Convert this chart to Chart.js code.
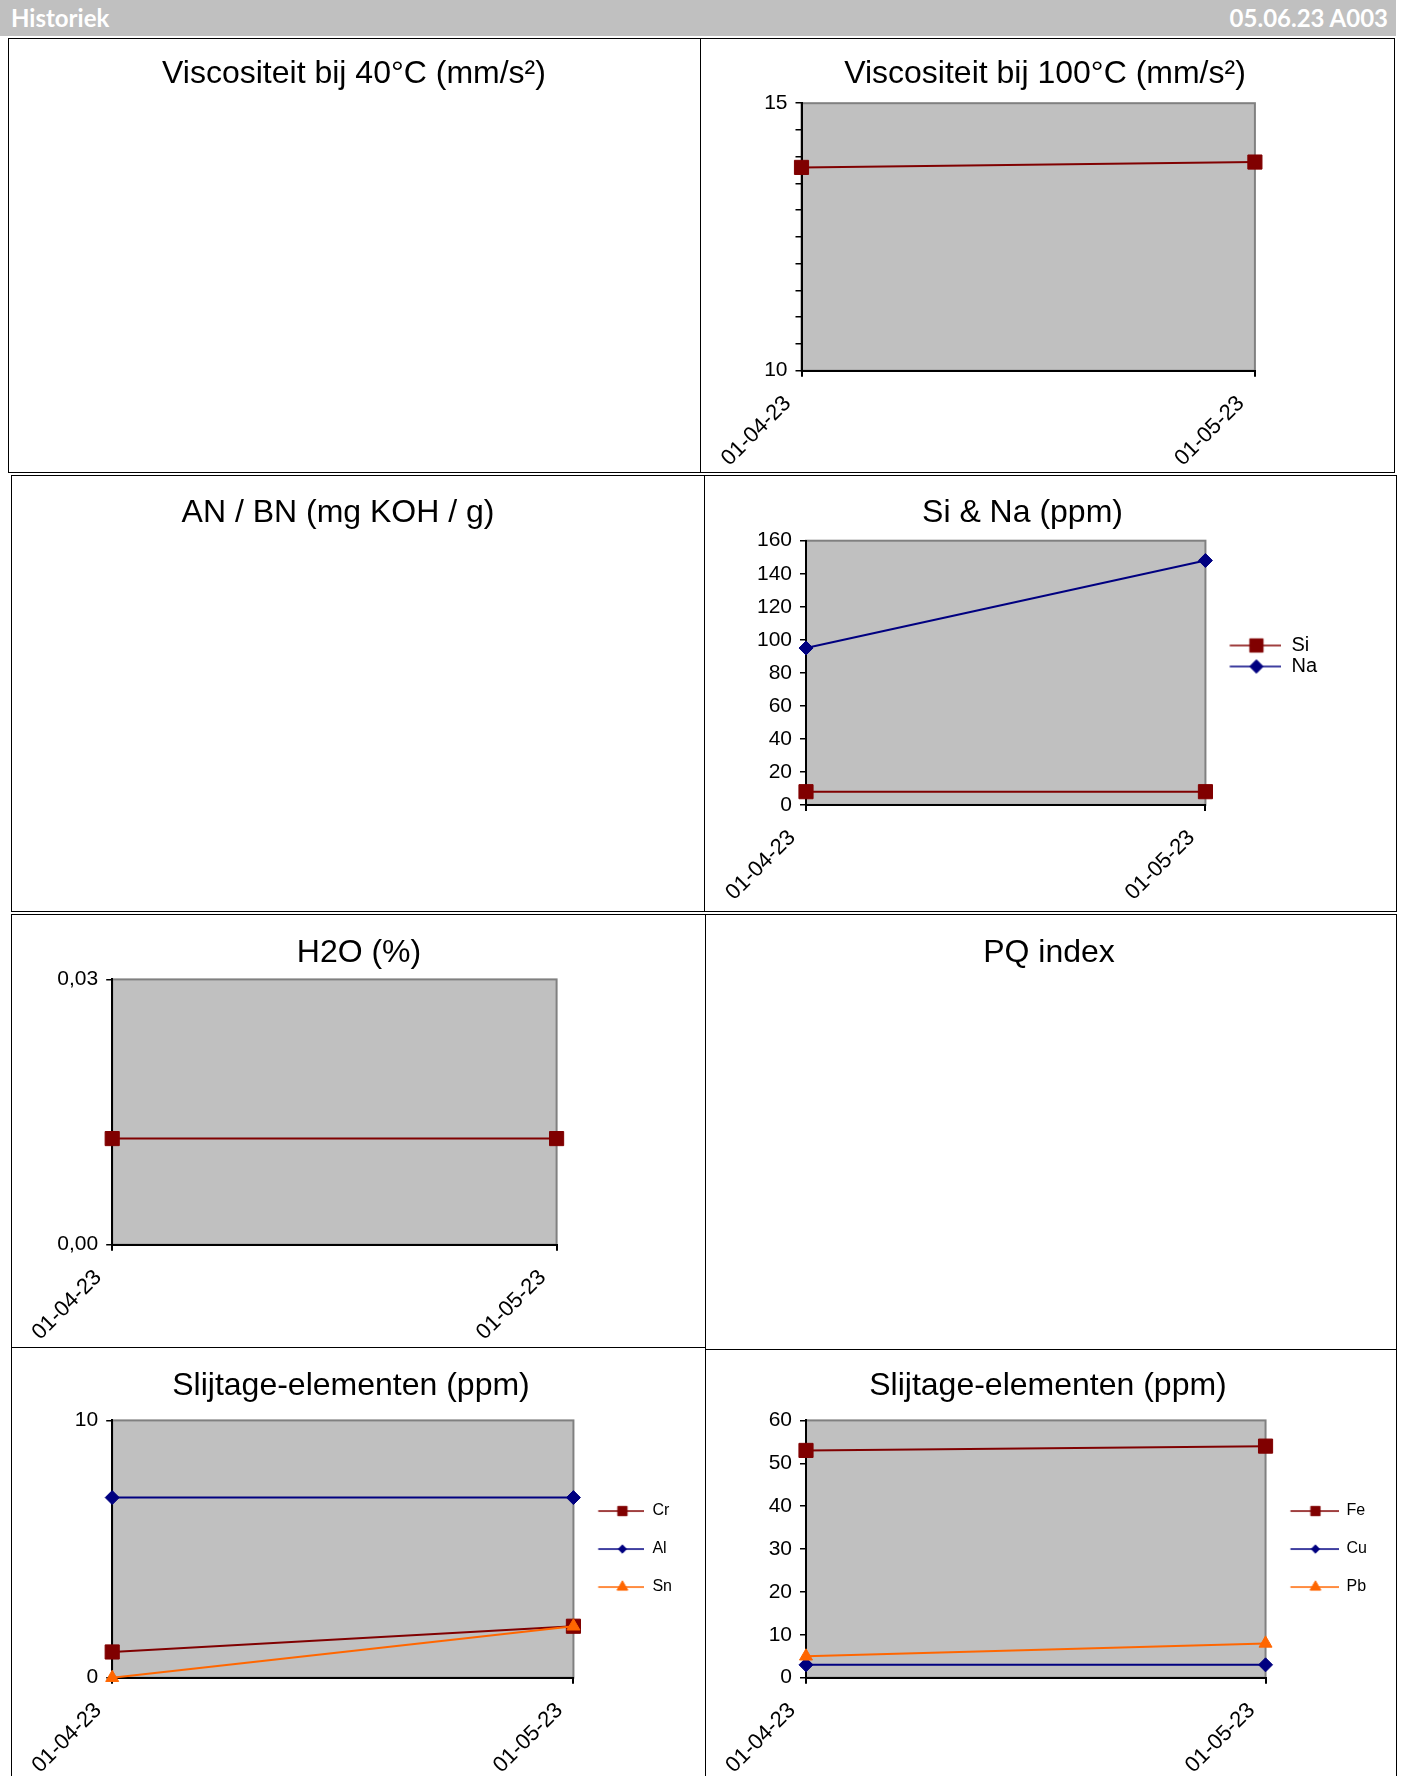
<!DOCTYPE html>
<html lang="nl">
<head>
<meta charset="UTF-8">
<title>Historiek</title>
<script src="https://cdn.jsdelivr.net/npm/chart.js@4"></script>
<style>
  body { margin: 0; width: 1401px; height: 1776px; overflow: hidden; background: #fff; position: relative; }
  .head { position: absolute; left: 0; top: 0; width: 1396px; height: 36px; background: #c0c0c0; color: #fff;
          font-family: Lato, 'Open Sans', sans-serif; font-weight: 700; font-size: 24px; line-height: 36px; }
  .head .l { position: absolute; left: 11px; }
  .head .r { position: absolute; right: 8px; }
  .cell { position: absolute; border: 1px solid #000; box-sizing: border-box; }
  canvas { position: absolute; }
</style>
</head>
<body>
<div class="head"><span class="l">Historiek</span><span class="r">05.06.23 A003</span></div>

<div class="cell" style="left:8px;top:38px;width:693px;height:435px"></div>
<div class="cell" style="left:700px;top:38px;width:695px;height:435px"></div>
<div class="cell" style="left:11px;top:475px;width:694px;height:437px"></div>
<div class="cell" style="left:704px;top:475px;width:693px;height:437px"></div>
<div class="cell" style="left:11px;top:914px;width:695px;height:434px"></div>
<div class="cell" style="left:705px;top:914px;width:692px;height:436px"></div>
<div class="cell" style="left:11px;top:1347px;width:695px;height:500px"></div>
<div class="cell" style="left:705px;top:1349px;width:692px;height:500px"></div>

<script>
var FONT = "'Liberation Sans', Arial, sans-serif";
var RED = '#800000', BLUE = '#000080', ORANGE = '#ff6600';

// data
var dates = ['01-04-23', '01-05-23'];
var visc100 = [13.8, 13.9];
var siVals = [8, 8];
var naVals = [95, 148];
var h2oVals = [0.012, 0.012];
var crVals = [1, 2];
var alVals = [7, 7];
var snVals = [0, 2];
var feVals = [53, 54];
var cuVals = [3, 3];
var pbVals = [5, 8];

Chart.defaults.font.family = FONT;
Chart.defaults.color = '#000';

var TITLE_SIZE = 32;
var TITLE_LH = TITLE_SIZE * 1.2;
var TITLE_DY = 2;     // canvas 'middle' sits a bit above the visual centre
var MARGIN = 60;      // extra canvas room left/right so rotated labels are not cut

var mctx = document.createElement('canvas').getContext('2d');
function measure(txt, size) {
    mctx.font = 'normal ' + size + 'px ' + FONT;
    return mctx.measureText(txt).width;
}

function addCanvas(x, y, w, h) {
    var c = document.createElement('canvas');
    c.width = w;
    c.height = h;
    c.style.left = x + 'px';
    c.style.top = y + 'px';
    c.style.width = w + 'px';
    c.style.height = h + 'px';
    document.body.appendChild(c);
    return c;
}

// grey plot area with a grey frame, like the old spreadsheet charts
var plotBg = {
    id: 'plotBg',
    beforeDraw: function (chart) {
        var a = chart.chartArea, ctx = chart.ctx;
        ctx.save();
        ctx.fillStyle = '#c0c0c0';
        ctx.fillRect(a.left, a.top, a.right - a.left, a.bottom - a.top);
        ctx.strokeStyle = '#808080';
        ctx.lineWidth = 2;
        ctx.strokeRect(a.left, a.top, a.right - a.left, a.bottom - a.top);
        ctx.restore();
    }
};

function series(label, data, color, style, radius, order) {
    return {
        label: label,
        data: data,
        borderColor: color,
        backgroundColor: color,
        borderWidth: 2,
        pointStyle: style,
        pointRadius: radius,
        pointBorderWidth: 1,
        pointBorderColor: color,
        pointBackgroundColor: color,
        tension: 0,
        clip: false,
        order: order || 0
    };
}

function legendSample(ds, W, x0, x1, mx, r) {
    var c = document.createElement('canvas');
    c.width = W;
    c.height = 22;
    var g = c.getContext('2d');
    g.strokeStyle = ds.borderColor;
    g.lineWidth = 1.5;
    g.beginPath();
    g.moveTo(x0, 11);
    g.lineTo(x1, 11);
    g.stroke();
    g.fillStyle = ds.backgroundColor;
    g.strokeStyle = ds.borderColor;
    g.lineWidth = 1;
    Chart.helpers.drawPoint(g, { pointStyle: ds.pointStyle, radius: r, borderWidth: 1, rotation: 0 }, mx, 11);
    return c;
}

function makeChart(spec) {
    var lg = spec.legend;
    var p = spec.plot;
    var legendW = 0, W = 0, start = 0;
    if (lg) {
        var tw = 0;
        spec.datasets.forEach(function (ds) { tw = Math.max(tw, measure(ds.label, lg.fs)); });
        start = p.r + lg.p;
        W = Math.round(lg.text - lg.fs / 2 - start);
        legendW = lg.p + W + lg.fs / 2 + tw + 10;
    }
    var cx = Math.floor(Math.min(p.l - 60, 2 * spec.titleX - legendW - p.r));
    var cw = Math.round(2 * (spec.titleX - cx));
    var yLeftW = p.l - cx;
    var yRightW = Math.max(0, cx + cw - legendW - p.r);
    var titleY = spec.titleY + TITLE_DY;
    var padTop = titleY - spec.cy - TITLE_LH / 2;
    var padBottom = p.t - spec.cy - padTop - TITLE_LH;
    var xH = spec.cy + spec.ch - p.b;

    var scales = {
        x: {
            type: 'category',
            offset: false,
            grid: { drawOnChartArea: false, drawTicks: true, tickLength: 6, color: '#000', lineWidth: 2 },
            border: { color: '#000', width: 2 },
            ticks: {
                autoSkip: false, minRotation: 45, maxRotation: 45,
                padding: 14, labelOffset: -14, color: '#000',
                font: { family: FONT, size: 22 }
            },
            afterFit: function (s) { s.height = xH; }
        },
        y: {
            min: spec.y.min,
            max: spec.y.max,
            grid: { drawOnChartArea: false, drawTicks: true, tickLength: 6, color: '#000', lineWidth: 1.5 },
            border: { color: '#000', width: 2 },
            ticks: {
                stepSize: spec.y.step,
                autoSkip: false,
                padding: 8,
                color: '#000',
                font: { family: FONT, size: 21 },
                callback: spec.y.label
            },
            afterFit: function (s) { s.width = yLeftW; }
        }
    };
    if (!lg) {
        // empty right-hand box so the title can sit right of the plot centre
        scales.yr = {
            position: 'right',
            weight: 2000,
            min: 0, max: 1,
            ticks: { display: false },
            grid: { display: false },
            border: { display: false },
            afterFit: function (s) { s.width = yRightW; }
        };
    }

    var legendOpts = { display: false };
    if (lg) {
        legendOpts = {
            display: true,
            position: 'right',
            align: 'center',
            fullSize: !!lg.fullSize,
            labels: {
                usePointStyle: true,
                pointStyleWidth: W,
                boxHeight: lg.fs,
                padding: lg.p,
                color: '#000',
                font: { family: FONT, size: lg.fs },
                generateLabels: function (chart) {
                    return chart.data.datasets.map(function (ds, i) {
                        return {
                            text: ds.label,
                            pointStyle: legendSample(ds, W, Math.max(0, lg.line0 - start), Math.min(W, lg.line1 - start), lg.marker - start, lg.radii[i]),
                            datasetIndex: i,
                            hidden: false,
                            lineWidth: 0,
                            fillStyle: 'transparent',
                            strokeStyle: 'transparent'
                        };
                    });
                }
            }
        };
    }

    var canvas = addCanvas(cx - MARGIN, spec.cy, cw + 2 * MARGIN, spec.ch);
    return new Chart(canvas, {
        type: 'line',
        data: { labels: dates, datasets: spec.datasets },
        plugins: [plotBg],
        options: {
            responsive: false,
            animation: false,
            layout: { padding: { left: MARGIN, right: MARGIN, top: 0, bottom: 0 } },
            plugins: {
                title: {
                    display: true,
                    text: spec.title,
                    color: '#000',
                    font: { family: FONT, size: TITLE_SIZE, weight: 'normal' },
                    padding: { top: padTop, bottom: padBottom }
                },
                legend: legendOpts,
                tooltip: { enabled: false }
            },
            scales: scales
        }
    });
}

function makeTitleOnly(text, titleX, titleY) {
    var cy = Math.round(titleY - 40);
    var cx = Math.round(titleX - 330);
    var canvas = addCanvas(cx, cy, 660, 80);
    return new Chart(canvas, {
        type: 'line',
        data: { labels: [], datasets: [] },
        options: {
            responsive: false,
            animation: false,
            plugins: {
                title: {
                    display: true,
                    text: text,
                    color: '#000',
                    font: { family: FONT, size: TITLE_SIZE, weight: 'normal' },
                    padding: { top: titleY + TITLE_DY - cy - TITLE_LH / 2, bottom: 0 }
                },
                legend: { display: false },
                tooltip: { enabled: false }
            },
            scales: { x: { display: false }, y: { display: false } }
        }
    });
}

function plainNum(v) { return String(v); }

makeTitleOnly('Viscositeit bij 40°C (mm/s²)', 354.3, 72.6);
makeTitleOnly('AN / BN (mg KOH / g)', 337.8, 511.3);
makeTitleOnly('PQ index', 1048.6, 951);

makeChart({
    title: 'Viscositeit bij 100°C (mm/s²)', titleX: 1045.2, titleY: 72.6,
    cy: 38, ch: 434,
    plot: { l: 801.5, r: 1254.9, t: 103.2, b: 370.7 },
    y: { min: 10, max: 15, step: 0.5, label: function (v) { return (v === 10 || v === 15) ? String(v) : ''; } },
    datasets: [series('Visc 100', visc100, RED, 'rect', 10)]
});

makeChart({
    title: 'Si & Na (ppm)', titleX: 1022.5, titleY: 511.3,
    cy: 406, ch: 500,
    plot: { l: 806, r: 1205, t: 540.7, b: 804.9 },
    y: { min: 0, max: 160, step: 20, label: plainNum },
    datasets: [series('Si', siVals, RED, 'rect', 10, 1), series('Na', naVals, BLUE, 'rectRot', 7, 0)],
    legend: { fs: 20, p: 1, text: 1291, line0: 1229.3, line1: 1284.3, marker: 1256, fullSize: true, radii: [9.4, 6.7] }
});

makeChart({
    title: 'H2O (%)', titleX: 358.8, titleY: 951,
    cy: 914, ch: 432,
    plot: { l: 112.2, r: 556.6, t: 979.4, b: 1244.7 },
    y: { min: 0, max: 0.03, step: 0.03, label: function (v) { return v.toFixed(2).replace('.', ','); } },
    datasets: [series('H2O', h2oVals, RED, 'rect', 10)]
});

makeChart({
    title: 'Slijtage-elementen (ppm)', titleX: 350.9, titleY: 1384.1,
    cy: 1347, ch: 429,
    plot: { l: 112.2, r: 572.5, t: 1420.4, b: 1677.7 },
    y: { min: 0, max: 10, step: 10, label: plainNum },
    datasets: [series('Cr', crVals, RED, 'rect', 10, 2), series('Al', alVals, BLUE, 'rectRot', 7, 1), series('Sn', snVals, ORANGE, 'triangle', 7.5, 0)],
    legend: { fs: 16, p: 22, text: 651.7, line0: 597.3, line1: 648.3, marker: 621.5, fullSize: false, radii: [6.6, 4.2, 6.2] }
});

makeChart({
    title: 'Slijtage-elementen (ppm)', titleX: 1048, titleY: 1384.1,
    cy: 1349, ch: 427,
    plot: { l: 806, r: 1265.1, t: 1420.4, b: 1677.7 },
    y: { min: 0, max: 60, step: 10, label: plainNum },
    datasets: [series('Fe', feVals, RED, 'rect', 10, 2), series('Cu', cuVals, BLUE, 'rectRot', 7, 1), series('Pb', pbVals, ORANGE, 'triangle', 7.5, 0)],
    legend: { fs: 16, p: 22, text: 1345.6, line0: 1290, line1: 1341, marker: 1315, fullSize: false, radii: [6.6, 4.2, 6.2] }
});
</script>
</body>
</html>
